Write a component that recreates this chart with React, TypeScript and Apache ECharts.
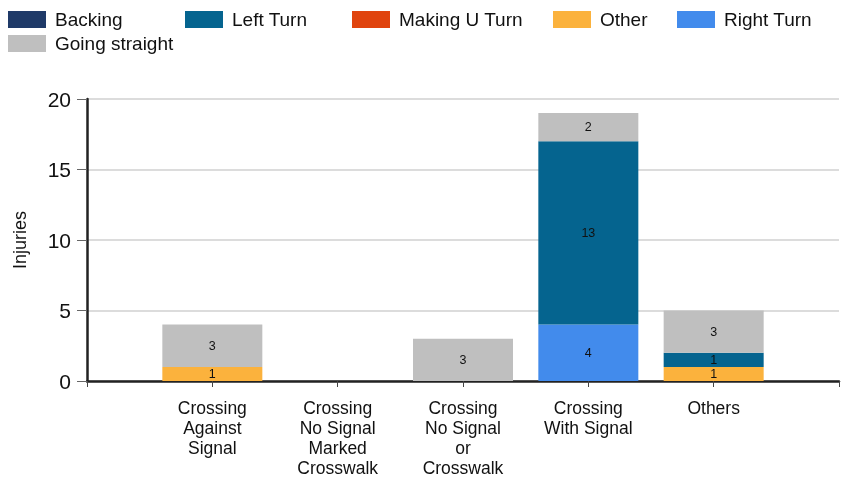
import React, { useEffect, useRef } from "react";
import * as echarts from "echarts";

const categories = [
  "",
  "Crossing\nAgainst\nSignal",
  "Crossing\nNo Signal\nMarked\nCrosswalk",
  "Crossing\nNo Signal\nor\nCrosswalk",
  "Crossing\nWith Signal",
  "Others",
  "",
];

const backing = [null, null, null, null, null, null, null];
const makingUTurn = [null, null, null, null, null, null, null];
const other = [null, 1, null, null, null, 1, null];
const rightTurn = [null, null, null, null, 4, null, null];
const leftTurn = [null, null, null, null, 13, 1, null];
const goingStraight = [null, 3, null, 3, 2, 3, null];

const yTicks = { min: 0, max: 20, interval: 5 };

const colors: Record<string, string> = {
  Backing: "#1f3a68",
  "Left Turn": "#05648f",
  "Making U Turn": "#e0440e",
  Other: "#fbb23d",
  "Right Turn": "#428bec",
  "Going straight": "#bfbfbf",
};

const legendPos: [string, number, number][] = [
  ["Backing", 8, 10],
  ["Left Turn", 185, 10],
  ["Making U Turn", 352, 10],
  ["Other", 553, 10],
  ["Right Turn", 677, 10],
  ["Going straight", 8, 34],
];

export default function App() {
  const ref = useRef<HTMLDivElement>(null);
  useEffect(() => {
    const chart = echarts.init(ref.current!, null, { renderer: "svg" });
    const font = "Liberation Sans, Arial, sans-serif";
    const mk = (name: string, data: (number | null)[]) => ({
      name,
      type: "bar",
      stack: "total",
      barWidth: 100,
      data,
      itemStyle: { color: colors[name] },
      label: {
        show: true,
        position: "inside",
        color: "#111",
        fontSize: 12.5,
        fontFamily: font,
        formatter: (p: any) => (p.value ? String(p.value) : ""),
      },
    });
    chart.setOption({
      animation: false,
      textStyle: { fontFamily: font },
      legend: legendPos.map(([name, left, top]) => ({
        data: [name],
        left,
        top,
        itemWidth: 38,
        itemHeight: 17,
        itemGap: 0,
        padding: 0,
        textStyle: { fontSize: 19, color: "#111", fontFamily: font, padding: [0, 0, 0, 4] },
        icon: "rect",
        selectedMode: false,
      })),
      grid: { left: 87, right: 0, top: 99, bottom: 94, containLabel: false },
      xAxis: {
        type: "category",
        data: categories,
        boundaryGap: false,
        axisLine: { lineStyle: { color: "#222", width: 2.5 } },
        axisTick: { show: true, length: 6, lineStyle: { color: "#444", width: 1 } },
        axisLabel: {
          interval: 0,
          margin: 17,
          fontSize: 17.5,
          lineHeight: 20,
          color: "#111",
          fontFamily: font,
        },
        splitLine: { show: false },
      },
      yAxis: {
        type: "value",
        min: yTicks.min,
        max: yTicks.max,
        interval: yTicks.interval,
        name: "Injuries",
        nameLocation: "middle",
        nameGap: 58,
        nameTextStyle: { fontSize: 18, color: "#111", fontFamily: font },
        axisLine: { show: true, lineStyle: { color: "#222", width: 2.5 } },
        axisTick: { show: true, length: 10, lineStyle: { color: "#666", width: 1 } },
        axisLabel: { fontSize: 21, color: "#111", margin: 16, fontFamily: font },
        splitLine: { lineStyle: { color: "#dcdcdc", width: 2 } },
      },
      series: [
        mk("Backing", backing),
        mk("Making U Turn", makingUTurn),
        mk("Other", other),
        mk("Right Turn", rightTurn),
        mk("Left Turn", leftTurn),
        mk("Going straight", goingStraight),
      ],
    });
    return () => chart.dispose();
  }, []);
  return (
    <div
      ref={ref}
      style={{ position: "fixed", left: 0, top: 0, width: 842, height: 478 }}
    />
  );
}
